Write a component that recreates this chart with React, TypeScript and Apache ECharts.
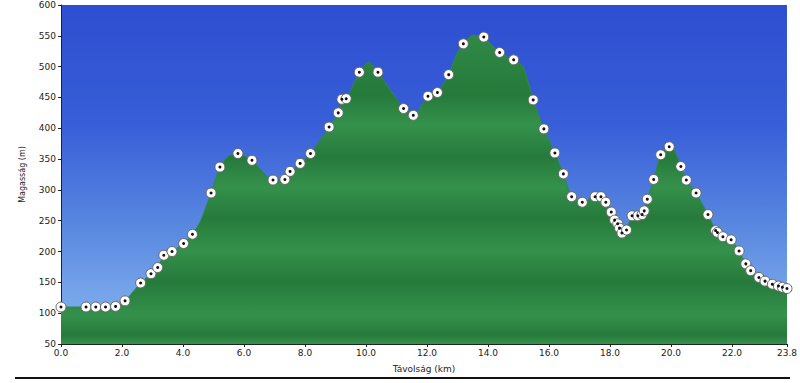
import React, { useEffect, useRef } from "react";
import * as echarts from "echarts";

// Waypoint markers (distance km, elevation m)
const markerKm = [0.0, 0.82, 1.14, 1.46, 1.79, 2.1, 2.61, 2.95, 3.17, 3.37, 3.64, 4.02, 4.31, 4.92, 5.21, 5.8, 6.26, 6.95, 7.34, 7.51, 7.84, 8.18, 8.79, 9.09, 9.21, 9.35, 9.78, 10.39, 11.23, 11.55, 12.03, 12.34, 12.71, 13.19, 13.86, 14.38, 14.84, 15.48, 15.83, 16.19, 16.47, 16.74, 17.09, 17.51, 17.7, 17.86, 18.04, 18.15, 18.25, 18.31, 18.39, 18.54, 18.72, 18.91, 19.05, 19.12, 19.22, 19.43, 19.66, 19.94, 20.32, 20.5, 20.82, 21.21, 21.46, 21.52, 21.7, 21.97, 22.23, 22.45, 22.61, 22.88, 23.08, 23.32, 23.52, 23.65, 23.8];
const markerElev = [110, 110, 110, 110, 111, 120, 149, 164, 174, 194, 200, 213, 228, 295, 337, 359, 348, 316, 317, 330, 343, 359, 402, 425, 447, 448, 491, 491, 432, 421, 452, 458, 487, 537, 548, 523, 511, 446, 399, 360, 326, 289, 280, 289, 289, 280, 264, 251, 245, 238, 230, 235, 258, 258, 260, 266, 285, 317, 357, 370, 338, 316, 295, 260, 234, 231, 224, 219, 201, 180, 169, 158, 152, 147, 144, 142, 140];

// Extra profile points between waypoints (unmarked)
const extraKm = [4.57, 5.5, 10.08, 12.95, 13.5, 15.15, 20.02];
const extraElev = [249, 355, 508, 518, 551, 500, 372];

// Axis ticks
const yMin = 50;
const yMax = 600;
const yStep = 50;
const xMin = 0;
const xMax = 23.8;
const xStep = 2;

const yTitle = "Magasság (m)";
const xTitle = "Távolság (km)";

export default function App() {
  const ref = useRef<HTMLDivElement>(null);

  useEffect(() => {
    if (!ref.current) return;
    const chart = echarts.init(ref.current, undefined, { renderer: "svg" });

    const markers = markerKm.map((k, i) => [k, markerElev[i]]);
    const profile = markers
      .concat(extraKm.map((k, i) => [k, extraElev[i]]))
      .sort((a, b) => a[0] - b[0]);

    const light = "#34914b";
    const dark = "#267a3b";
    const greenStops: any[] = [];
    const bandYs = [
      [5, light], [95, dark], [125, light], [157, dark], [187, light], [218, dark],
      [250, light], [282, dark], [315, light], [335, dark], [344, light],
    ];
    bandYs.forEach(([y, c]) => greenStops.push({ offset: ((y as number) - 5) / 339, color: c }));

    chart.setOption({
      animation: false,
      backgroundColor: "#ffffff",
      grid: {
        left: 61,
        right: 13,
        top: 5,
        bottom: 39,
        show: true,
        borderWidth: 0,
        backgroundColor: new echarts.graphic.LinearGradient(0, 0, 0, 1, [
          { offset: 0, color: "#2d4ed0" },
          { offset: 0.35, color: "#385ed8" },
          { offset: 0.65, color: "#5887e0" },
          { offset: 0.85, color: "#76a4ea" },
          { offset: 1, color: "#82b2ee" },
        ]),
      },
      xAxis: {
        type: "value",
        min: xMin,
        max: xMax,
        interval: xStep,
        name: xTitle,
        nameLocation: "middle",
        nameGap: 20,
        nameTextStyle: { fontSize: 9, color: "#222", fontFamily: "DejaVu Sans" },
        axisLine: { show: true, lineStyle: { color: "#222", width: 1 } },
        axisTick: { show: true, length: 3, lineStyle: { color: "#222" } },
        axisLabel: {
          fontSize: 9,
          color: "#222",
          fontFamily: "DejaVu Sans",
          margin: 4,
          showMaxLabel: true,
          formatter: (v: number) => v.toFixed(1),
        },
        splitLine: { show: false },
      },
      yAxis: {
        type: "value",
        min: yMin,
        max: yMax,
        interval: yStep,
        name: yTitle,
        nameLocation: "middle",
        nameGap: 35,
        nameRotate: 90,
        nameTextStyle: { fontSize: 8, color: "#222", fontFamily: "DejaVu Sans" },
        axisLine: { show: true, lineStyle: { color: "#222", width: 1 } },
        axisTick: { show: true, length: 3, lineStyle: { color: "#222" } },
        axisLabel: { fontSize: 9, color: "#222", fontFamily: "DejaVu Sans", margin: 5 },
        splitLine: { show: false },
      },
      series: [
        {
          type: "line",
          data: profile,
          smooth: 0.2,
          symbol: "none",
          lineStyle: { width: 1, color: "#2f8a45" },
          areaStyle: {
            origin: "start",
            opacity: 1,
            color: new echarts.graphic.LinearGradient(0, 5, 0, 344, greenStops, true),
          },
          z: 2,
        },
        {
          type: "scatter",
          data: markers,
          symbol: "circle",
          symbolSize: 10,
          itemStyle: { color: "#ffffff", borderColor: "#666", borderWidth: 1, opacity: 1 },
          z: 3,
        },
        {
          type: "scatter",
          data: markers,
          symbol: "circle",
          symbolSize: 3,
          itemStyle: { color: "#111", opacity: 1 },
          z: 4,
        },
      ],
      graphic: [
        { type: "rect", shape: { x: 15, y: 377, width: 775, height: 2 }, style: { fill: "#111" } },
      ],
    });

    return () => chart.dispose();
  }, []);

  return (
    <div
      ref={ref}
      style={{ position: "absolute", left: 0, top: 0, width: 800, height: 383 }}
    />
  );
}
